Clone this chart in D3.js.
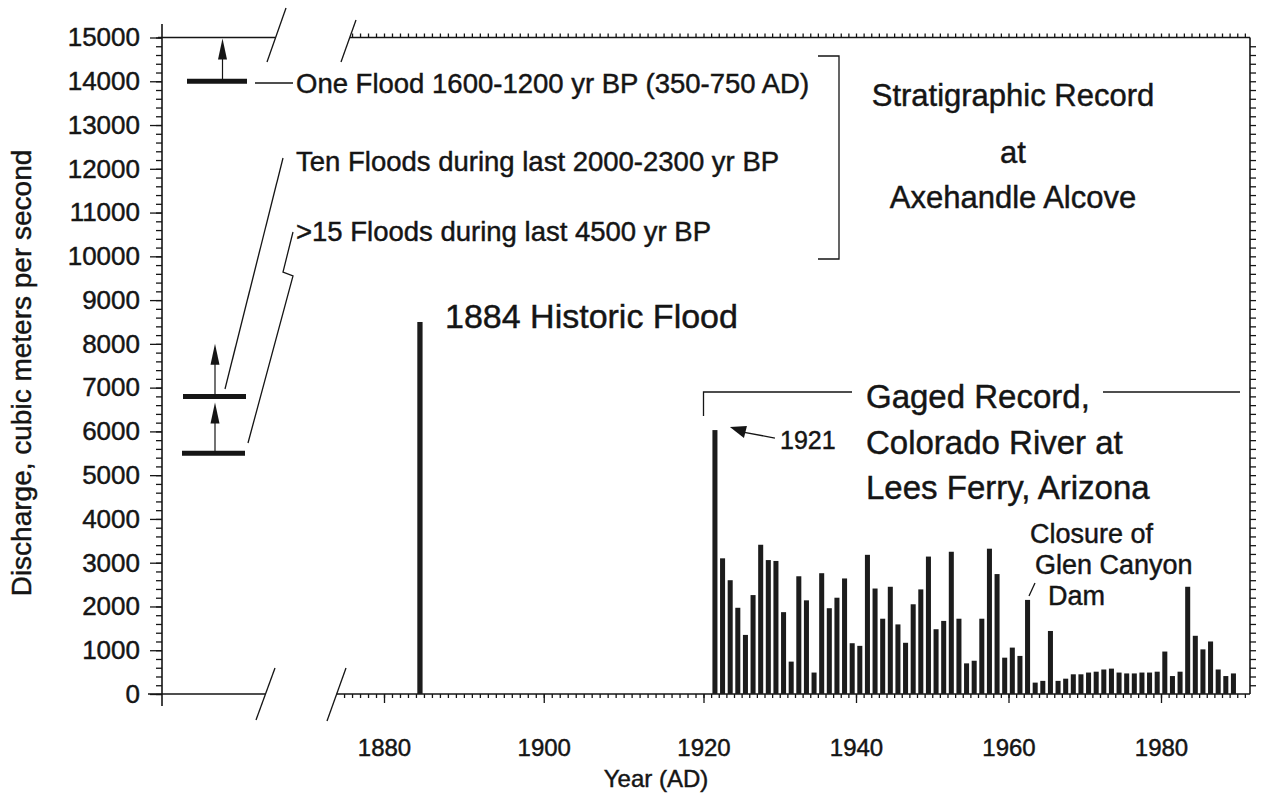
<!DOCTYPE html>
<html>
<head>
<meta charset="utf-8">
<script src="https://cdn.jsdelivr.net/npm/d3@7"></script>
<style>
body { margin: 0; background: #fff; }
svg { font-family: "Liberation Sans", Arial, Helvetica, sans-serif; }
svg text { stroke: #151515; stroke-width: 0.45px; }
</style>
</head>
<body>
<svg id="chart" width="1261" height="796"></svg>
<script>
// gaged annual peaks, Colorado River at Lees Ferry (m3/s), one per year from 1921
const gagedStart = 1921;
const gagedPeaks = [
  6030, 3100, 2600, 1970, 1350, 2260, 3410, 3060, 3040, 1870,
  740, 2690, 2140, 490, 2760, 1960, 2200, 2640, 1160, 1100,
  3180, 2410, 1720, 2450, 1590, 1170, 2050, 2390, 3140, 1480,
  1670, 3250, 1720, 700, 760, 1720, 3320, 2740, 830, 1060,
  870, 2150, 260, 300, 1440, 300, 350, 450, 450, 490,
  510, 560, 580, 490, 470, 470, 490, 490, 510, 970,
  410, 510, 2450, 1330, 1020, 1200, 560, 410, 470
];
const historicYears = [1884];
const historicPeaks = [8500];
// paleoflood stages from the Axehandle Alcove stratigraphy
const paleoLevels = [14000, 6800, 5500];

const yTicks = [0, 1000, 2000, 3000, 4000, 5000, 6000, 7000, 8000, 9000, 10000, 11000, 12000, 13000, 14000, 15000];
const xTicks = [1880, 1900, 1920, 1940, 1960, 1980];

const ink = "#151515";
const svg = d3.select("#chart");

// the scanned axis is slightly uneven, so the year scale is piecewise
const x = d3.scaleLinear().domain([1880, 1920, 1980]).range([384, 703.5, 1161]);
const y = d3.scaleLinear().domain([0, 15000]).range([694, 37.5]);
const xAxisX = 162, rightX = 1250;

function line(pts, w) {
  svg.append("path")
    .attr("d", d3.line()(pts))
    .attr("fill", "none")
    .attr("stroke", ink)
    .attr("stroke-width", w || 1.3);
}

function styleAxis(g, size) {
  g.select(".domain").remove();
  g.selectAll("line").attr("stroke", ink).attr("stroke-width", 1.3);
  g.selectAll("text").attr("fill", ink).style("font-size", size + "px");
}

// ---- frame lines with breaks ----
line([[xAxisX, 24], [xAxisX, 706]], 1.6);
line([[rightX, y(15000)], [rightX, y(0)]], 1.6);
line([[158, y(15000)], [275.6, y(15000)]], 1.6);
line([[349.8, y(15000)], [rightX, y(15000)]], 1.6);
line([[148, y(0)], [265.5, y(0)]], 1.6);
line([[336.7, y(0)], [rightX, y(0)]], 1.6);
line([[267, 62], [286, 8]]);
line([[341, 62], [356, 20]]);
line([[256, 720], [275, 668]]);
line([[327, 721], [346, 668]]);

// ---- axes ----
const minorY = d3.range(0, 15001, 200);
const minorX = d3.range(1875, 1992, 1);

svg.append("g").attr("transform", `translate(${xAxisX},0)`)
  .call(d3.axisLeft(y).tickValues(minorY).tickSize(6).tickFormat(""))
  .call(g => styleAxis(g, 0));
svg.append("g").attr("transform", `translate(${xAxisX},0)`)
  .call(d3.axisLeft(y).tickValues(yTicks).tickSize(12).tickPadding(10).tickFormat(d3.format("d")))
  .call(g => styleAxis(g, 26));

svg.append("g").attr("transform", `translate(${rightX},0)`)
  .call(d3.axisRight(y).tickValues(minorY.slice(1, -1)).tickSize(6).tickFormat(""))
  .call(g => styleAxis(g, 0));

svg.append("g").attr("transform", `translate(0,${y(15000)})`)
  .call(d3.axisTop(x).tickValues(d3.range(1876, 1992, 1)).tickSize(4).tickFormat(""))
  .call(g => styleAxis(g, 0));

svg.append("g").attr("transform", `translate(0,${y(0)})`)
  .call(d3.axisBottom(x).tickValues(minorX).tickSize(4).tickFormat(""))
  .call(g => styleAxis(g, 0));
svg.append("g").attr("transform", `translate(0,${y(0)})`)
  .call(d3.axisBottom(x).tickValues(xTicks).tickSize(9).tickPadding(36).tickFormat(d3.format("d")))
  .call(g => styleAxis(g, 24));

svg.append("text")
  .attr("transform", "translate(31,373) rotate(-90)")
  .attr("text-anchor", "middle")
  .attr("fill", ink)
  .style("font-size", "28px")
  .text("Discharge, cubic meters per second");

svg.append("text")
  .attr("x", 656).attr("y", 787)
  .attr("text-anchor", "middle")
  .attr("fill", ink)
  .style("font-size", "24px")
  .text("Year (AD)");

// ---- bars ----
const gaged = gagedPeaks.map((v, i) => ({ year: gagedStart + i, q: v }));
const historic = historicYears.map((yr, i) => ({ year: yr, q: historicPeaks[i] }));

svg.append("g").selectAll("rect")
  .data(gaged.concat(historic))
  .enter()
  .append("rect")
  .attr("x", d => x(d.year + 0.17))
  .attr("width", d => x(d.year + 0.83) - x(d.year + 0.17))
  .attr("y", d => y(d.q))
  .attr("height", d => y(0) - y(d.q))
  .attr("fill", "#1c1c1c");

// ---- paleoflood levels ----
const paleoSpan = [[187, 247], [183, 246], [182, 245]];
svg.append("g").selectAll("line")
  .data(paleoLevels)
  .enter()
  .append("line")
  .attr("x1", (d, i) => paleoSpan[i][0])
  .attr("x2", (d, i) => paleoSpan[i][1])
  .attr("y1", d => y(d))
  .attr("y2", d => y(d))
  .attr("stroke", ink)
  .attr("stroke-width", 5);

function arrow(ax, yFrom, yTip) {
  line([[ax, yFrom], [ax, yTip + 10]], 1.2);
  svg.append("path")
    .attr("d", d3.line()([[ax, yTip], [ax - 4.5, yTip + 21], [ax + 4.5, yTip + 21]]) + "Z")
    .attr("fill", ink);
}
arrow(222.5, y(14000), y(15000) + 1);
arrow(215, y(5500), y(6800) + 6);
arrow(215, y(6800), y(8000));

// leaders to the paleoflood notes
line([[255, 83], [293, 83]]);
line([[283, 158], [225, 389]]);
line([[293, 232], [283, 272], [293, 276], [248, 443]]);
line([[818, 56], [839, 56], [839, 259], [818, 259]]);

function label(t, lx, ly, size, anchor) {
  svg.append("text")
    .attr("x", lx).attr("y", ly)
    .attr("text-anchor", anchor || "start")
    .attr("fill", ink)
    .style("font-size", size + "px")
    .text(t);
}

label("One Flood 1600-1200 yr BP (350-750 AD)", 296, 93, 27.5);
label("Ten Floods during last 2000-2300 yr BP", 296, 171, 27.5);
label(">15 Floods during last 4500 yr BP", 296, 241, 27.5);

label("Stratigraphic Record", 1013, 106, 31, "middle");
label("at", 1013, 163, 31, "middle");
label("Axehandle Alcove", 1013, 208, 31, "middle");

label("1884 Historic Flood", 445, 328, 34);

// gaged record bracket
line([[x(1920), 416], [x(1920), 392], [852, 392]]);
line([[1103, 392], [1240, 392]]);
label("Gaged Record,", 866, 408, 33);
label("Colorado River at", 866, 454, 33);
label("Lees Ferry, Arizona", 866, 499, 33);

// 1921 pointer
const x21 = x(1921.5), y21 = y(gagedPeaks[0]);
line([[x21 + 28, y21 + 2], [x21 + 60, y21 + 8]], 1.3);
svg.append("path")
  .attr("d", d3.line()([[x21 + 15, y21 - 3], [x21 + 32, y21 - 4], [x21 + 29, y21 + 8]]) + "Z")
  .attr("fill", ink);
label("1921", 780, 449, 25);

label("Closure of", 1030, 543, 27);
label("Glen Canyon", 1035, 574, 27);
label("Dam", 1048, 605, 27);
line([[1029, 596], [1035, 583]], 1.3);
</script>
</body>
</html>
